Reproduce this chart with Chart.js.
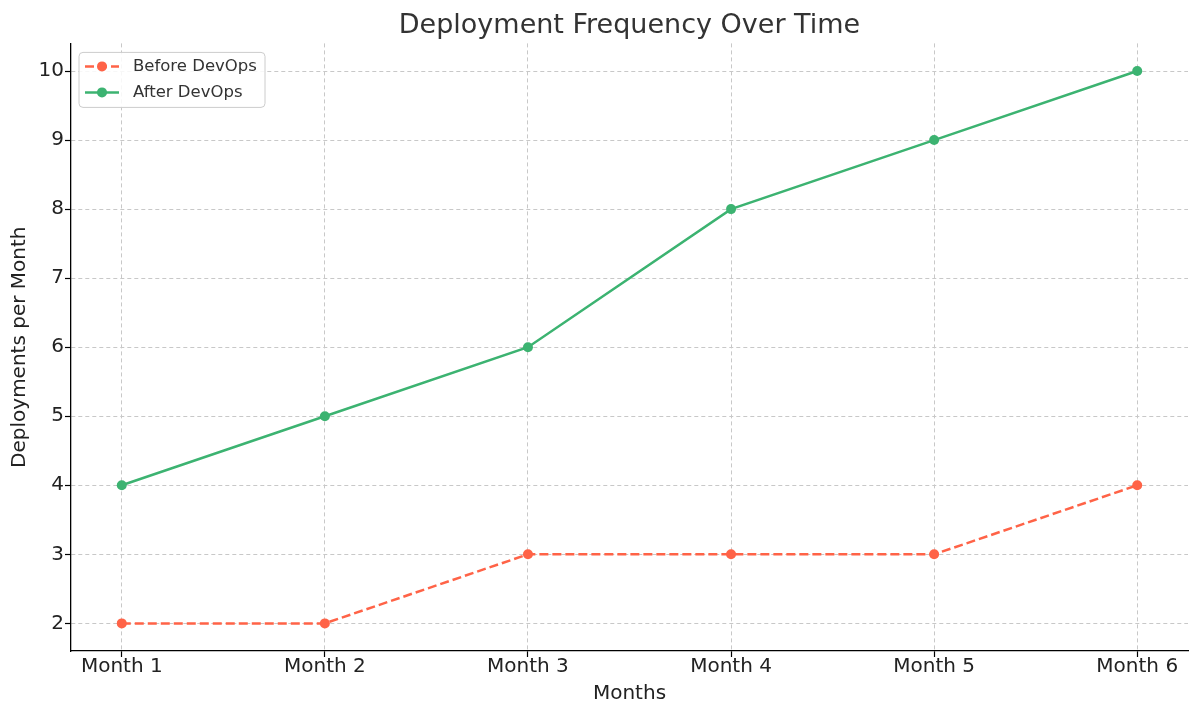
<!DOCTYPE html>
<html>
<head>
<meta charset="utf-8">
<script src="https://cdn.jsdelivr.net/npm/chart.js@4/dist/chart.umd.min.js"></script>
<style>
    html, body { margin: 0; padding: 0; background: #ffffff; }
    #wrap { width: 1200px; height: 716px; }
</style>
</head>
<body>
<div id="wrap"><canvas id="deploy-chart"></canvas></div>
<script>
const months = ["Month 1", "Month 2", "Month 3", "Month 4", "Month 5", "Month 6"];
const beforeDevOps = [2, 2, 3, 3, 3, 4];
const afterDevOps = [4, 5, 6, 8, 9, 10];
const yTicks = [2, 3, 4, 5, 6, 7, 8, 9, 10];

const FONT = 'DejaVu Sans, sans-serif';
const gridStyle = {
    color: '#c8c8c8',
    lineWidth: 1,
    tickColor: '#000000',
    tickLength: 6,
    tickWidth: 1.2,
    tickBorderDash: []
};
// in v4 the grid line dash comes from border.dash
const borderStyle = {display: true, color: '#000000', width: 1.3, dash: [4, 3]};

// center the title over the plot area like matplotlib does
const titleOverPlot = {
    id: 'titleOverPlot',
    afterLayout(chart) {
        if (chart.titleBlock) {
            chart.titleBlock.left = chart.chartArea.left;
            chart.titleBlock.right = chart.chartArea.right;
        }
    }
};

// matplotlib-style legend drawn inside the plot area
const innerLegend = {
    id: 'innerLegend',
    afterDatasetsDraw(chart) {
        const ctx = chart.ctx;
        const left = chart.chartArea.left + 8;
        const top = chart.chartArea.top + 9;
        const w = 186, h = 55, r = 4;
        ctx.save();
        ctx.beginPath();
        ctx.roundRect(left, top, w, h, r);
        ctx.fillStyle = 'rgba(255,255,255,0.85)';
        ctx.fill();
        ctx.strokeStyle = '#cccccc';
        ctx.lineWidth = 1;
        ctx.stroke();

        chart.data.datasets.forEach((ds, i) => {
            const y = top + 14 + i * 26;
            ctx.beginPath();
            ctx.setLineDash(ds.borderDash || []);
            ctx.strokeStyle = ds.borderColor;
            ctx.lineWidth = ds.borderWidth;
            ctx.moveTo(left + 6, y);
            ctx.lineTo(left + 40, y);
            ctx.stroke();
            ctx.setLineDash([]);
            ctx.beginPath();
            ctx.arc(left + 23, y, 5, 0, Math.PI * 2);
            ctx.fillStyle = ds.borderColor;
            ctx.fill();
            ctx.fillStyle = '#333333';
            ctx.font = '16.5px ' + FONT;
            ctx.textBaseline = 'middle';
            ctx.fillText(ds.label, left + 54, y);
        });
        ctx.restore();
    }
};

const toPoints = values => values.map((v, i) => ({x: i, y: v}));

new Chart('deploy-chart', {
    type: 'line',
    data: {
        datasets: [{
            label: 'Before DevOps',
            data: toPoints(beforeDevOps),
            borderColor: '#ff6347',
            backgroundColor: '#ff6347',
            borderWidth: 2.5,
            borderDash: [9, 4],
            pointRadius: 5,
            pointHoverRadius: 5,
            pointBorderWidth: 0,
            tension: 0
        }, {
            label: 'After DevOps',
            data: toPoints(afterDevOps),
            borderColor: '#3cb371',
            backgroundColor: '#3cb371',
            borderWidth: 2.5,
            pointRadius: 5,
            pointHoverRadius: 5,
            pointBorderWidth: 0,
            tension: 0
        }]
    },
    options: {
        responsive: true,
        maintainAspectRatio: false,
        animation: false,
        layout: {padding: {left: 0, right: 12, top: 0, bottom: 0}},
        plugins: {
            legend: {display: false},
            tooltip: {enabled: false},
            title: {
                display: true,
                text: 'Deployment Frequency Over Time',
                color: '#333333',
                font: {size: 27, family: FONT, weight: 'normal'},
                padding: {top: 10, bottom: 1}
            }
        },
        scales: {
            x: {
                type: 'linear',
                min: -0.25,
                max: 5.25,
                afterBuildTicks(scale) {
                    scale.ticks = months.map((m, i) => ({value: i}));
                },
                afterFit(scale) { scale.height = 65; },
                ticks: {
                    callback: v => months[v],
                    color: '#222222',
                    font: {size: 20, family: FONT},
                    padding: -2,
                    maxRotation: 0,
                    autoSkip: false
                },
                grid: gridStyle,
                border: borderStyle,
                title: {
                    display: true,
                    text: 'Months',
                    color: '#222222',
                    font: {size: 20, family: FONT},
                    padding: {top: 0, bottom: 10}
                }
            },
            y: {
                type: 'linear',
                min: 1.6,
                max: 10.4,
                afterBuildTicks(scale) {
                    scale.ticks = yTicks.map(v => ({value: v}));
                },
                afterFit(scale) { scale.width = 71; },
                ticks: {
                    color: '#222222',
                    font: {size: 20, family: FONT},
                    padding: 1
                },
                grid: gridStyle,
                border: borderStyle,
                title: {
                    display: true,
                    text: 'Deployments per Month',
                    color: '#222222',
                    font: {size: 20, family: FONT},
                    padding: {top: 8, bottom: 0}
                }
            }
        }
    },
    plugins: [titleOverPlot, innerLegend]
});
</script>
</body>
</html>
